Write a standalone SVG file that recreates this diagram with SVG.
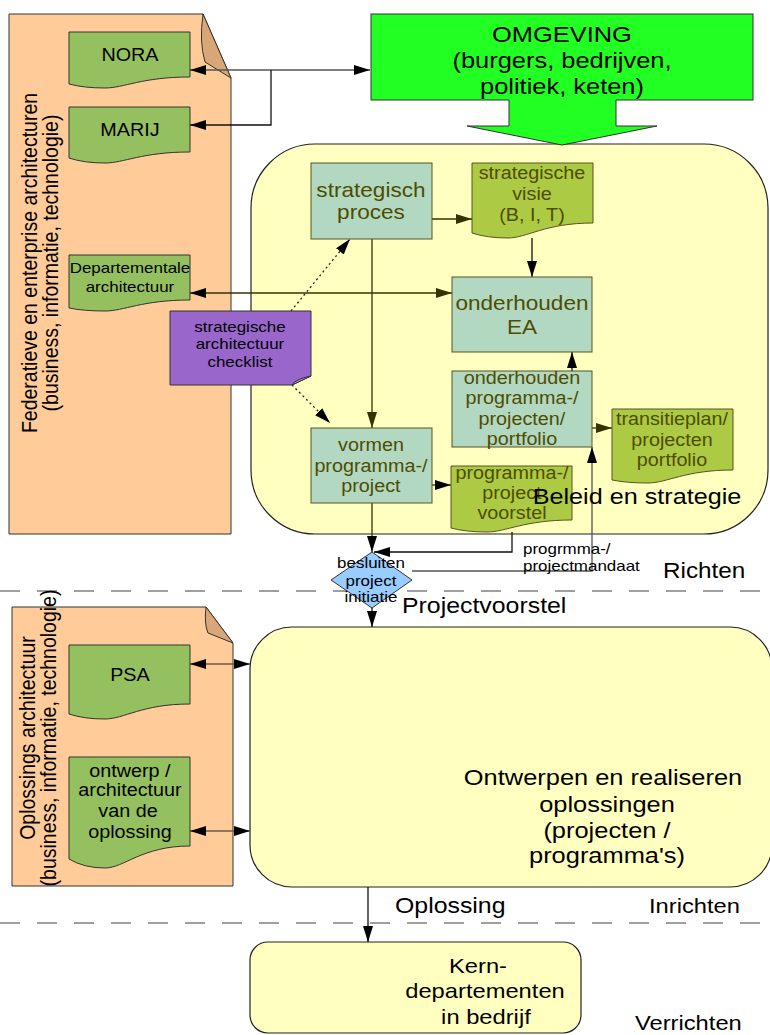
<svg xmlns="http://www.w3.org/2000/svg" width="770" height="1035" viewBox="0 0 770 1035">
<defs>
<style>
text { font-family: "Liberation Sans", Arial, sans-serif; text-anchor: middle; fill: #000; }
text:not(.v) { transform-box: fill-box; transform-origin: center; transform: scaleX(1.13); }
text.l { text-anchor: start; transform-origin: left center; }
.f17 { font-size: 17.5px; }
.f15 { font-size: 15px; }
.f20 { font-size: 20px; }
.f22 { font-size: 22px; }
.v { font-size: 19.5px; }
.ol { fill: #4d4d00; }
.org { fill: #ffcc99; stroke: #333; stroke-width: 1; }
.fold { fill: #d9a677; stroke: #333; stroke-width: 1; }
.gdoc { fill: #95c05f; stroke: #333; stroke-width: 1; }
.teal { fill: #b3d8c2; stroke: #555522; stroke-width: 1; }
.odoc { fill: #adca45; stroke: #555522; stroke-width: 1; }
.yel { fill: #ffffc0; stroke: #222; stroke-width: 1.2; }
.c { fill: none; stroke-width: 1.3; }
.k { stroke: #111; }
.g { stroke: #555; }
.o { stroke: #333300; }
.b { stroke: #6b5a4a; }
.dot { stroke: #222; stroke-dasharray: 2 3; }
.dash { fill: none; stroke: #808080; stroke-width: 1.5; stroke-dasharray: 20 17; }
</style>
<marker id="ab" viewBox="0 0 16 10" refX="16" refY="5" markerWidth="16" markerHeight="10" markerUnits="userSpaceOnUse" orient="auto-start-reverse"><path d="M0,0 L16,5 L0,10 Z" fill="#000"/></marker>
<marker id="ao" viewBox="0 0 16 10" refX="16" refY="5" markerWidth="16" markerHeight="10" markerUnits="userSpaceOnUse" orient="auto-start-reverse"><path d="M0,0 L16,5 L0,10 Z" fill="#333300"/></marker>
</defs>
<rect x="0" y="0" width="770" height="1035" fill="#fff"/>

<g id="lanes">
<path class="dash" d="M0,591 H770"/>
<path class="dash" d="M0,923 H770"/>
</g>

<g id="federatieve-ea">
<path class="org" d="M9,14 H203 L231,78 V534 H9 Z"/>
<path class="fold" d="M203,14 Q199,42 205,62 L231,78 Z"/>
<text class="v" transform="translate(37,263) scale(1.13,1) rotate(-90)">Federatieve en enterprise architecturen</text>
<text class="v" transform="translate(58,263) scale(1.13,1) rotate(-90)">(business, informatie, technologie)</text>
</g>

<g id="oplossings-architectuur">
<path class="org" d="M12,607 H206 L233,643 V886 H12 Z"/>
<path class="fold" d="M206,607 Q204,624 208,633 L233,643 Z"/>
<text class="v" transform="translate(35,738) scale(1.13,1) rotate(-90)">Oplossings architectuur</text>
<text class="v" transform="translate(56,738) scale(1.13,1) rotate(-90)">(business, informatie, technologie)</text>
</g>

<g id="beleid-en-strategie">
<rect class="yel" x="251" y="144" width="517" height="390" rx="64"/>
</g>

<g id="ontwerpen">
<rect class="yel" x="250" y="627" width="522" height="260" rx="42"/>
<text x="603" y="785" style="font-size:22.5px">Ontwerpen en realiseren</text>
<text x="607" y="812" style="font-size:22.5px">oplossingen</text>
<text x="607" y="838" style="font-size:22.5px">(projecten /</text>
<text x="607" y="863" style="font-size:22.5px">programma's)</text>
</g>

<g id="kerndepartementen">
<rect class="yel" x="250" y="942" width="331" height="91" rx="18"/>
<text x="478" y="973" style="font-size:21px">Kern-</text>
<text x="485" y="998" style="font-size:21px">departementen</text>
<text x="486" y="1024" style="font-size:21px">in bedrijf</text>
</g>

<g id="omgeving">
<rect x="371" y="14" width="382" height="86" fill="#22ff22" stroke="#333" stroke-width="1"/>
<polygon points="509,99 616,99 616,126 657,126 562,145 467,126 509,126" fill="#22ff22"/>
<path d="M509,100 V126 H467 L562,145 L657,126 H616 V100" fill="none" stroke="#333" stroke-width="1"/>
<text x="562" y="42" style="font-size:22.5px">OMGEVING</text>
<text x="562" y="68" style="font-size:22.5px">(burgers, bedrijven,</text>
<text x="562" y="94" style="font-size:22.5px">politiek, keten)</text>
</g>

<g id="connectors">
<path class="c g" d="M190,70 H370" marker-start="url(#ab)" marker-end="url(#ab)"/>
<path class="c k" d="M271,70 V125 H190" marker-end="url(#ab)"/>
<path class="c o" d="M190,293 H452" marker-start="url(#ab)" marker-end="url(#ao)"/>
<path class="c o" d="M432,219 H472" marker-end="url(#ao)"/>
<path class="c k" d="M532,238 V277" marker-end="url(#ab)"/>
<path class="c o" d="M372,239 V428" marker-end="url(#ao)"/>
<path class="c dot" d="M291,311 L350,239" marker-end="url(#ab)"/>
<path class="c dot" d="M292,385 L330,423" marker-end="url(#ab)"/>
<path class="c k" d="M572,371 V352" marker-end="url(#ab)"/>
<path class="c o" d="M592,428 H612" marker-end="url(#ao)"/>
<path class="c o" d="M432,485 H451" marker-end="url(#ab)"/>
<path class="c o" d="M372,503 V552" marker-end="url(#ab)"/>
<path class="c k" d="M512,532 V552 H374" marker-end="url(#ab)"/>
<path class="c g" d="M412,571 H592 V447" marker-end="url(#ab)"/>
<path class="c k" d="M372,608 V627" marker-end="url(#ab)"/>
<path class="c b" d="M190,664 H250" marker-start="url(#ab)" marker-end="url(#ab)"/>
<path class="c b" d="M190,831 H250" marker-start="url(#ab)" marker-end="url(#ab)"/>
<path class="c k" d="M368,887 V942" marker-end="url(#ab)"/>
</g>

<g id="nora">
<path class="gdoc" d="M69,32 H190 V77 C142,77 124,88 105,88 Q84,88 69,84 Z"/>
<text class="f17" x="130" y="61">NORA</text>
</g>
<g id="marij">
<path class="gdoc" d="M69,107 H190 V152 C142,152 124,163 105,163 Q84,163 69,158 Z"/>
<text class="f17" x="130" y="136">MARIJ</text>
</g>
<g id="departementale-architectuur">
<path class="gdoc" d="M69,255 H190 V300 C142,300 124,311 105,311 Q84,311 69,308 Z"/>
<text class="f15" x="130" y="273">Departementale</text>
<text class="f15" x="130" y="292">architectuur</text>
</g>
<g id="psa">
<path class="gdoc" d="M69,645 H190 V704 C142,704 124,719 105,719 Q84,719 69,714 Z"/>
<text class="f17" x="130" y="681">PSA</text>
</g>
<g id="ontwerp-oplossing">
<path class="gdoc" d="M69,757 H190 V846 C142,846 124,868 105,868 Q84,868 69,859 Z"/>
<text class="f17" x="130" y="777">ontwerp /</text>
<text class="f17" x="130" y="796">architectuur</text>
<text class="f17" x="128" y="817">van de</text>
<text class="f17" x="130" y="838">oplossing</text>
</g>

<g id="strategisch-proces">
<rect class="teal" x="311" y="163" width="121" height="76"/>
<text class="f20 ol" x="371" y="197">strategisch</text>
<text class="f20 ol" x="371" y="219">proces</text>
</g>
<g id="strategische-visie">
<path class="odoc" d="M472,163 H593 V223 C545,223 527,238 508,238 Q487,238 472,233 Z"/>
<text class="f17 ol" x="532" y="179">strategische</text>
<text class="f17 ol" x="532" y="200">visie</text>
<text class="f17 ol" x="532" y="221">(B, I, T)</text>
</g>
<g id="onderhouden-ea">
<rect class="teal" x="452" y="277" width="140" height="75"/>
<text class="f20 ol" x="522" y="310">onderhouden</text>
<text class="f20 ol" x="522" y="334">EA</text>
</g>
<g id="onderhouden-portfolio">
<rect class="teal" x="452" y="371" width="140" height="76"/>
<text class="f17 ol" x="522" y="384">onderhouden</text>
<text class="f17 ol" x="522" y="404">programma-/</text>
<text class="f17 ol" x="522" y="425">projecten/</text>
<text class="f17 ol" x="522" y="445">portfolio</text>
</g>
<g id="transitieplan">
<path class="odoc" d="M612,409 H733 V470 C685,470 667,483 648,483 Q627,483 612,480 Z"/>
<text class="f17 ol" x="672" y="425">transitieplan/</text>
<text class="f17 ol" x="672" y="446">projecten</text>
<text class="f17 ol" x="672" y="466">portfolio</text>
</g>
<g id="vormen-programma">
<rect class="teal" x="311" y="428" width="121" height="75"/>
<text class="f17 ol" x="371" y="451">vormen</text>
<text class="f17 ol" x="371" y="472">programma-/</text>
<text class="f17 ol" x="371" y="492">project</text>
</g>
<g id="projectvoorstel-doc">
<path class="odoc" d="M451,466 H572 V520 C524,520 506,532 487,532 Q466,532 451,528 Z"/>
<text class="f17 ol" x="512" y="479">programma-/</text>
<text class="f17 ol" x="512" y="499">project</text>
<text class="f17 ol" x="512" y="519">voorstel</text>
</g>
<g id="checklist">
<path d="M170,311 H311 V376 L292,385 H170 Z" fill="#9966cc" stroke="#333" stroke-width="1"/>
<path d="M311,376 L292,385 Q295,379 311,376 Z" fill="#b58fe0" stroke="#333" stroke-width="1"/>
<text class="f15" x="240" y="332">strategische</text>
<text class="f15" x="240" y="349">architectuur</text>
<text class="f15" x="240" y="367">checklist</text>
</g>
<g id="besluiten">
<polygon points="372,552 412,580 372,608 331,580" fill="#99ccff" stroke="#333" stroke-width="1"/>
<text class="f15" x="371" y="568">besluiten</text>
<text class="f15" x="371" y="586">project</text>
<text class="f15" x="371" y="602">initiatie</text>
</g>

<g id="labels">
<text x="637" y="504" style="font-size:22.3px">Beleid en strategie</text>
<text class="l f15" x="523" y="554">progrmma-/</text>
<text class="l f15" x="523" y="571">projectmandaat</text>
<text class="l" x="663" y="578" style="font-size:21.5px">Richten</text>
<text class="l f22" x="402" y="613">Projectvoorstel</text>
<text class="l f22" x="395" y="913">Oplossing</text>
<text class="l" x="649" y="913" style="font-size:21px">Inrichten</text>
<text class="l" x="635" y="1030" style="font-size:21px">Verrichten</text>
</g>
</svg>
